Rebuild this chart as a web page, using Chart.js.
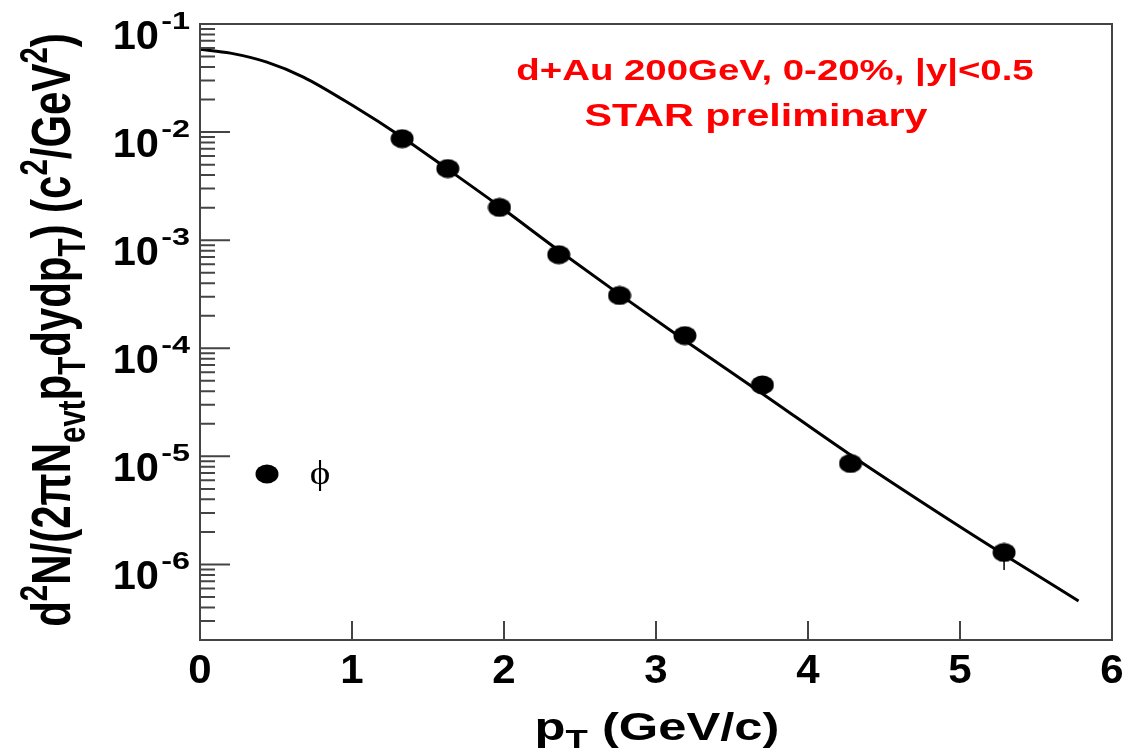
<!DOCTYPE html>
<html>
<head>
<meta charset="utf-8">
<script src="https://cdn.jsdelivr.net/npm/chart.js@4/dist/chart.umd.min.js"></script>
<style>
html, body { margin: 0; padding: 0; background: #fff; }
#wrap { width: 1126px; height: 748px; position: relative; }
</style>
</head>
<body>
<div id="wrap"><canvas id="phiChart"></canvas></div>
<script>
// phi spectrum, measured points
const ptPoints = [1.33, 1.63, 1.97, 2.36, 2.76, 3.19, 3.70, 4.28, 5.29];
const yieldPoints = [8.7e-3, 4.6e-3, 2.01e-3, 7.35e-4, 3.08e-4, 1.31e-4, 4.58e-5, 8.6e-6, 1.29e-6];

// only the last error bar sticks out of its marker
const errPt = [5.29];
const errLow = [8.9e-7];
const errHigh = [1.5e-6];

// fit curve
const ptCurve = [0, 0.2, 0.44, 0.68, 1.01, 1.33, 1.63, 1.97, 2.36, 2.76, 3.19, 3.70, 4.28, 5.0, 5.29, 5.78];
const yieldCurve = [0.0584, 0.0538, 0.0444, 0.0323, 0.0174, 8.97e-3, 4.53e-3, 2.06e-3, 8.04e-4, 3.15e-4, 1.18e-4, 3.8e-5, 1.03e-5, 2.23e-6, 1.23e-6, 4.59e-7];

const xTicks = [0, 1, 2, 3, 4, 5, 6];
const yTickExp = [-1, -2, -3, -4, -5, -6];

const textLines = ["d+Au 200GeV, 0-20%, |y|<0.5", "STAR preliminary"];
const legendLabel = "\u03d5";

// ROOT style filled marker, a bit wider than tall
const markerImg = (() => {
    const c = document.createElement("canvas");
    c.width = 24; c.height = 20;
    const g = c.getContext("2d");
    g.fillStyle = "#000";
    g.beginPath();
    g.ellipse(12, 10, 11.5, 9.5, 0, 0, Math.PI * 2);
    g.fill();
    return c;
})();

// parts: [text, relative size, relative baseline shift, x stretch]
function drawRich(ctx, parts, size, opts) {
    const fam = opts.family || "Liberation Sans";
    const wt = opts.weight || "bold";
    const fontOf = p => wt + " " + (size * p[1]).toFixed(1) + "px \"" + fam + "\"";
    let total = 0;
    const widths = parts.map(p => {
        ctx.font = fontOf(p);
        const w = ctx.measureText(p[0]).width * (p[3] || 1);
        total += w;
        return w;
    });
    let x0 = opts.align === "right" ? -total : opts.align === "left" ? 0 : -total / 2;
    ctx.fillStyle = opts.color || "#000";
    ctx.textAlign = "left";
    ctx.textBaseline = "alphabetic";
    parts.forEach((p, i) => {
        ctx.save();
        ctx.font = fontOf(p);
        ctx.translate(x0, size * p[2]);
        ctx.scale(p[3] || 1, 1);
        ctx.fillText(p[0], 0, 0);
        ctx.restore();
        x0 += widths[i];
    });
}

const rootFrame = {
    id: "rootFrame",
    afterDatasetsDraw(chart) {
        const { ctx, chartArea: a, scales: { x, y } } = chart;
        ctx.save();

        // frame + inside ticks
        ctx.strokeStyle = "#444";
        ctx.lineWidth = 2;
        ctx.strokeRect(a.left, a.top, a.right - a.left, a.bottom - a.top);
        ctx.beginPath();
        xTicks.forEach(v => {
            const px = x.getPixelForValue(v);
            ctx.moveTo(px, a.bottom);
            ctx.lineTo(px, a.bottom - 19);
        });
        for (let n = -7; n <= -1; n++) {
            for (let k = 1; k <= 9; k++) {
                const v = k * Math.pow(10, n);
                if (v <= y.min * 1.001 || v > y.max * 1.001) continue;
                const py = y.getPixelForValue(v);
                ctx.moveTo(a.left, py);
                ctx.lineTo(a.left + (k === 1 ? 30 : 15), py);
            }
        }
        ctx.stroke();

        // x tick labels
        xTicks.forEach(v => {
            ctx.save();
            ctx.translate(x.getPixelForValue(v), a.bottom + 43);
            drawRich(ctx, [[String(v), 1, 0, 1.05]], 40, {});
            ctx.restore();
        });

        // y tick labels 10^n
        yTickExp.forEach(n => {
            ctx.save();
            ctx.translate(a.left - 10, y.getPixelForValue(Math.pow(10, n)) + 25);
            drawRich(ctx, [["10", 1, 0, 1.04], [" ", 0.2, 0], [String(n), 0.6, -0.5, 1.35]], 40, { align: "right" });
            ctx.restore();
        });

        // axis titles
        ctx.save();
        ctx.translate(657, 740);
        ctx.scale(1.3, 1);
        drawRich(ctx, [["p", 1, 0], ["T", 0.72, 0.22], [" (GeV/c)", 1, 0]], 39, {});
        ctx.restore();

        ctx.save();
        ctx.translate(70, 330);
        ctx.rotate(-Math.PI / 2);
        ctx.scale(1, 1.3);
        drawRich(ctx, [
            ["d", 1, 0], ["2", 0.7, -0.42], ["N/(2\u03c0N", 1, 0], ["evt", 0.7, 0.27],
            ["p", 1, 0], ["T", 0.7, 0.27], ["dydp", 1, 0], ["T", 0.7, 0.27],
            [") (c", 1, 0], ["2", 0.7, -0.42], ["/GeV", 1, 0], ["2", 0.7, -0.42], [")", 1, 0]
        ], 42, {});
        ctx.restore();

        // red labels
        ctx.save();
        ctx.translate(775, 80);
        drawRich(ctx, [[textLines[0], 1, 0, 1.28]], 30, { color: "#ff0000" });
        ctx.restore();
        ctx.save();
        ctx.translate(756, 126);
        drawRich(ctx, [[textLines[1], 1, 0, 1.33]], 31, { color: "#ff0000" });
        ctx.restore();

        // legend
        ctx.drawImage(markerImg, 267 - 12, 474 - 10);
        ctx.save();
        ctx.translate(320, 484);
        drawRich(ctx, [[legendLabel, 1, 0, 1.15]], 34, { family: "Liberation Serif", weight: "normal" });
        ctx.restore();

        ctx.restore();
    }
};

new Chart(document.getElementById("phiChart"), {
    type: "scatter",
    data: {
        datasets: [{
            type: "line",
            label: "fit",
            data: ptCurve.map((v, i) => ({ x: v, y: yieldCurve[i] })),
            borderColor: "#000",
            borderWidth: 3,
            pointRadius: 0,
            showLine: true,
            fill: false,
            cubicInterpolationMode: "monotone"
        }, {
            type: "line",
            label: "err",
            data: [{ x: errPt[0], y: errLow[0] }, { x: errPt[0], y: errHigh[0] }],
            borderColor: "#000",
            borderWidth: 1.5,
            pointRadius: 0,
            showLine: true,
            fill: false
        }, {
            label: "\u03c6",
            data: ptPoints.map((v, i) => ({ x: v, y: yieldPoints[i] })),
            pointStyle: markerImg,
            pointRadius: 12,
            backgroundColor: "#000",
            borderColor: "#000"
        }]
    },
    options: {
        responsive: true,
        maintainAspectRatio: false,
        animation: false,
        layout: { padding: { left: 200, top: 24, right: 14, bottom: 108 } },
        plugins: { legend: { display: false }, tooltip: { enabled: false } },
        scales: {
            x: { type: "linear", min: 0, max: 6, display: false },
            y: { type: "logarithmic", min: 2e-7, max: 0.1, display: false }
        }
    },
    plugins: [rootFrame]
});
</script>
</body>
</html>
